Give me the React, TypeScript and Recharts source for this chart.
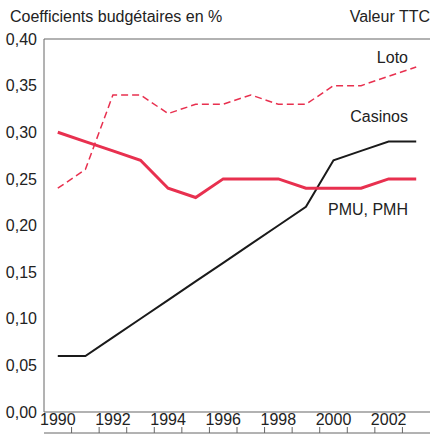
import React from 'react';
import { LineChart, Line, XAxis, YAxis, CartesianGrid } from 'recharts';

const years = [1990, 1991, 1992, 1993, 1994, 1995, 1996, 1997, 1998, 1999, 2000, 2001, 2002, 2003];
const loto = [0.24, 0.26, 0.34, 0.34, 0.32, 0.33, 0.33, 0.34, 0.33, 0.33, 0.35, 0.35, 0.36, 0.37];
const casinos = [0.06, 0.06, 0.08, 0.10, 0.12, 0.14, 0.16, 0.18, 0.20, 0.22, 0.27, 0.28, 0.29, 0.29];
const pmu = [0.30, 0.29, 0.28, 0.27, 0.24, 0.23, 0.25, 0.25, 0.25, 0.24, 0.24, 0.24, 0.25, 0.25];
const yTicks = [0, 0.05, 0.1, 0.15, 0.2, 0.25, 0.3, 0.35, 0.4];
const xLabelTicks = [1990, 1992, 1994, 1996, 1998, 2000, 2002];
const xMarkTicks = [1990.5, 1991.5, 1992.5, 1993.5, 1994.5, 1995.5, 1996.5, 1997.5, 1998.5, 1999.5, 2000.5, 2001.5, 2002.5];

const data = years.map((y, i) => ({ year: y, loto: loto[i], casinos: casinos[i], pmu: pmu[i] }));

const FONT = '"Liberation Sans Narrow", "Arial Narrow", "Liberation Sans", Arial, sans-serif';
const RED = '#e8304f';
const GRID = '#666';
const TEXT = '#222';

const fmt = (v: number) => v.toFixed(2).replace('.', ',');

const MarkTick = (props: any) => {
  const { x, y } = props;
  return <line x1={x} x2={x} y1={y} y2={y - 6} stroke={GRID} strokeWidth={1} />;
};

const label = (text: string, top: number, right: number | null, left: number | null) => (
  <div
    style={{
      position: 'absolute',
      top,
      left: left ?? undefined,
      right: right ?? undefined,
      fontFamily: FONT,
      fontSize: 16,
      color: TEXT,
      lineHeight: '16px',
      whiteSpace: 'nowrap',
    }}
  >
    {text}
  </div>
);

export default function App() {
  return (
    <div style={{ position: 'absolute', left: 0, top: 0, width: 432, height: 434, background: '#fff' }}>
      <LineChart
        width={432}
        height={434}
        data={data}
        margin={{ top: 39, right: 2, bottom: 0, left: 0 }}
      >
        <CartesianGrid horizontal vertical={false} stroke={GRID} strokeWidth={1.2} />
        <XAxis
          xAxisId="m"
          dataKey="year"
          type="number"
          domain={[1989.5, 2003.5]}
          ticks={xMarkTicks}
          tick={<MarkTick />}
          tickLine={false}
          tickSize={0}
          tickMargin={0}
          height={1}
          axisLine={{ stroke: GRID }}
          interval={0}
          allowDataOverflow
        />
        <XAxis
          xAxisId="l"
          dataKey="year"
          type="number"
          domain={[1989.5, 2003.5]}
          ticks={xLabelTicks}
          tickFormatter={(v: number) => String(v)}
          axisLine={false}
          tickLine={false}
          tickSize={0}
          tickMargin={2}
          height={21}
          tick={{ fill: TEXT, fontFamily: FONT, fontSize: 16 }}
          interval={0}
        />
        <YAxis
          yAxisId="y"
          domain={[0, 0.4]}
          ticks={yTicks}
          tickFormatter={fmt}
          width={44}
          axisLine={{ stroke: GRID }}
          tickLine={false}
          tickMargin={1}
          tick={{ fill: TEXT, fontFamily: FONT, fontSize: 16 }}
          interval={0}
        />
        <YAxis
          yAxisId="r"
          orientation="right"
          domain={[0, 0.4]}
          width={0}
          tick={false}
          tickLine={false}
          axisLine={{ stroke: GRID }}
        />
        <Line xAxisId="m" yAxisId="y" type="linear" dataKey="loto" stroke={RED} strokeWidth={1.5} strokeDasharray="7 4" dot={false} isAnimationActive={false} />
        <Line xAxisId="m" yAxisId="y" type="linear" dataKey="casinos" stroke="#1a1a1a" strokeWidth={2} dot={false} isAnimationActive={false} />
        <Line xAxisId="m" yAxisId="y" type="linear" dataKey="pmu" stroke={RED} strokeWidth={3} dot={false} isAnimationActive={false} />
      </LineChart>
      {label('Coefficients budgétaires en %', 9, null, 10)}
      {label('Valeur TTC', 9, 2, null)}
      {label('Loto', 50, 24, null)}
      {label('Casinos', 109, 24, null)}
      {label('PMU, PMH', 202, 24, null)}
    </div>
  );
}
